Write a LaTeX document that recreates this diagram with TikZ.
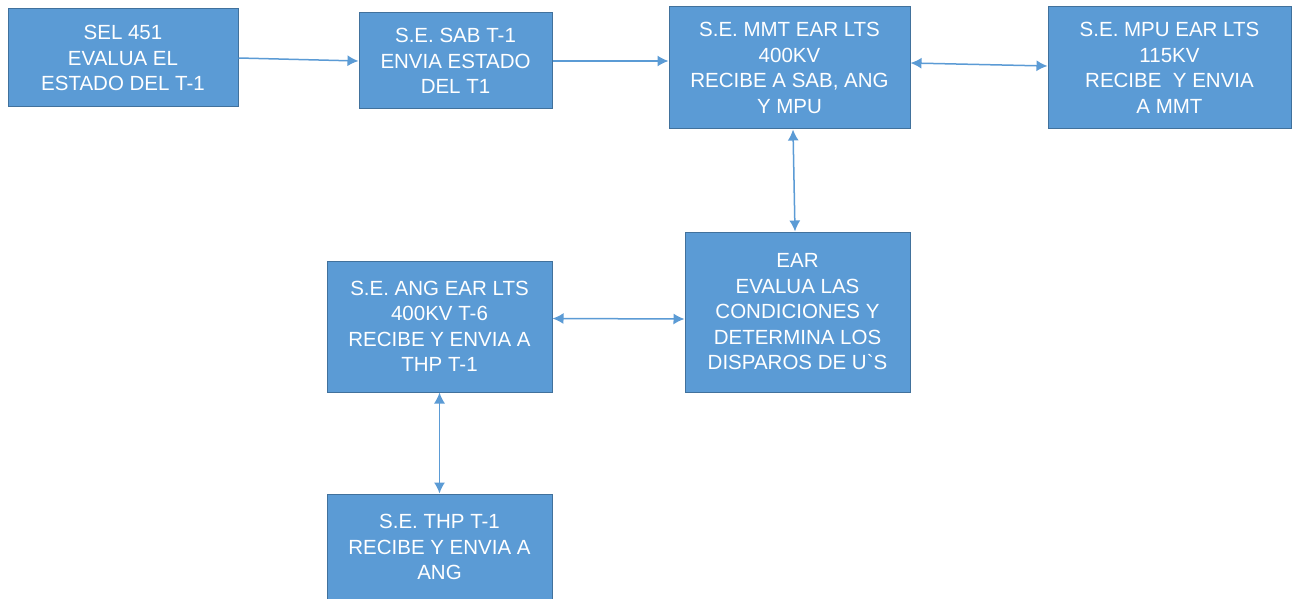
\documentclass[tikz,border=0pt]{standalone}
\usepackage{fontspec}
\setmainfont{Liberation Sans}
\usetikzlibrary{arrows.meta}
\definecolor{azulcaja}{HTML}{5B9BD5}
\definecolor{bordecaja}{HTML}{41719C}
\tikzset{
    caja/.style={
        rectangle,
        draw=bordecaja, % borde azul oscuro
        fill=azulcaja, % relleno azul
        line width=1pt,
        text=white,
        align=center,
        inner sep=0,
        font=\fontsize{20.5}{25.5}\selectfont
    },
    flecha/.style={
        draw=azulcaja, % mismo azul de las cajas
        line width=1.5pt,
        -{Latex[length=11pt,width=11pt]}
    },
    dobleflecha/.style={
        draw=azulcaja,
        line width=1.5pt,
        {Latex[length=11pt,width=11pt]}-{Latex[length=11pt,width=11pt]}
    }
}

\begin{document}
\begin{tikzpicture}[x=1pt, y=-1pt]
            \fill[white] (0,0) rectangle (1293,599);
            \useasboundingbox (0,0) rectangle (1293,599);
            % fila de arriba
            \node[caja, minimum width=230pt, minimum height=98pt] (sel) at (123,58)
                {SEL 451\\EVALUA EL\\ESTADO DEL T-1};
            \node[caja, minimum width=193pt, minimum height=96pt] (sab) at (455.5,61)
                {S.E. SAB T-1\\ENVIA ESTADO\\DEL T1};
            \node[caja, minimum width=241pt, minimum height=122pt] (mmt) at (789.5,68)
                {S.E. MMT EAR LTS\\400KV\\RECIBE A SAB, ANG\\Y MPU};
            \node[caja, minimum width=243pt, minimum height=122pt] (mpu) at (1169.5,68)
                {S.E. MPU EAR LTS\\115KV\\RECIBE\ \ Y ENVIA\\A MMT};
            % parte de abajo
            \node[caja, minimum width=225pt, minimum height=160pt] (ear) at (797.5,312)
                {EAR\\EVALUA LAS\\CONDICIONES Y\\DETERMINA LOS\\DISPAROS DE U\textasciigrave S};
            \node[caja, minimum width=225pt, minimum height=131pt] (ang) at (439.5,326.5)
                {S.E. ANG EAR LTS\\400KV T-6\\RECIBE Y ENVIA A\\THP T-1};
            \node[caja, minimum width=225pt, minimum height=106pt] (thp) at (439.5,547)
                {S.E. THP T-1\\RECIBE Y ENVIA A\\ANG};
            % flechas
            \draw[flecha] (sel.east) -- (sab.west);
            \draw[flecha] (sab.east) -- (sab.east -| mmt.west);
            \draw[dobleflecha] ([yshift=5pt]mmt.east) -- ([yshift=2pt]mpu.west);
            \draw[dobleflecha] ([xshift=3.5pt]mmt.south) -- ([xshift=-2.5pt]ear.north);
            \draw[dobleflecha] ([yshift=8pt]ang.east) -- ([yshift=-7pt]ear.west);
            \draw[dobleflecha] (ang.south) -- (thp.north);
\end{tikzpicture}
\end{document}
